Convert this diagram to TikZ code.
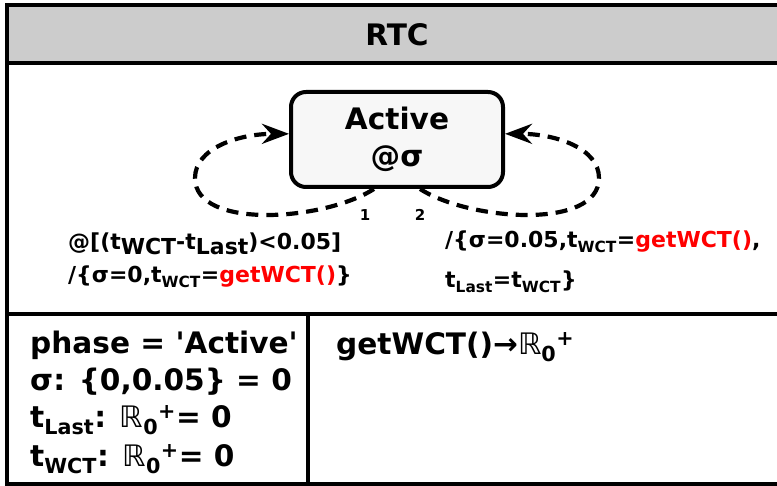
\documentclass[tikz,border=0pt]{standalone}
\usepackage{fontspec}
\setmainfont{DejaVu Sans}
\newfontfamily\symfont{DejaVu Sans}
\usepackage{tikz}
\usetikzlibrary{arrows.meta, positioning}
\usepackage{xcolor}
\definecolor{titlegray}{RGB}{204, 204, 204}
\definecolor{stategray}{RGB}{247, 247, 247}
\definecolor{callred}{RGB}{255, 0, 0}
\newcommand{\Rpos}{{\symfont\mdseries ℝ}\textsubscript{0}\textsuperscript{+}}
\newcommand{\lowered}[1]{\raisebox{-0.22em}{#1}}

\begin{document}
\begin{tikzpicture}[x=1pt, y=-1pt,
  frame/.style={line width=3.4pt, black},
  bigtext/.style={font=\fontsize{29.6}{35}\selectfont\bfseries, inner sep=0pt},
  guardtext/.style={font=\fontsize{22}{26}\selectfont\bfseries, inner sep=0pt, anchor=base west},
  state/.style={draw, line width=4pt, rounded corners=15pt, fill=stategray,
    minimum width=212pt, minimum height=95pt, align=center,
    font=\fontsize{29.6}{37}\selectfont\bfseries},
  transarrow/.style={line width=4.2pt, dash pattern=on 12pt off 8pt,
    -{Stealth[length=27pt, width=20pt, inset=9pt]}},
  prio/.style={font=\fontsize{15}{17}\selectfont\bfseries, inner sep=0pt}]
  \useasboundingbox (0,0) rectangle (777,486);
  \clip (0,0) rectangle (777,486);
  \fill[titlegray] (7,5) rectangle (795,63);
  \draw[frame] (7,5) rectangle (795,484);
  \draw[frame] (7,63) -- (795,63);
  \draw[frame] (7,314) -- (795,314);
  \draw[frame] (308,314) -- (308,484);
  \node[bigtext, anchor=base] (title) at (397,46) {RTC};

  \node[state] (active) at (397,139.5) {Active\\@σ};
  \coordinate (lfar) at (195,178);
  \coordinate (rfar) at (599,178);
  \draw[transarrow] (active.245) .. controls +(-50,32) and +(0,52) .. (lfar)
    .. controls +(0,-30) and +(-50,0) .. (active.177);
  \draw[transarrow] (active.295) .. controls +(50,32) and +(0,52) .. (rfar)
    .. controls +(0,-30) and +(50,0) .. (active.3);
  \node[prio] (p1) at (365,215) {1};
  \node[prio] (p2) at (420,215) {2};

  \node[guardtext] (guardA) at (68,250) {@[(t\lowered{WCT}-t\lowered{Last})<0.05]};
  \node[guardtext] (actionA) at (68,283) {/\{σ=0,t\textsubscript{WCT}=\textcolor{callred}{getWCT()}\}};
  \node[guardtext] (actionB) at (445,248) {/\{σ=0.05,t\textsubscript{WCT}=\textcolor{callred}{getWCT()},};
  \node[guardtext] (actionB2) at (445,288) {t\textsubscript{Last}=t\textsubscript{WCT}\}};

  \node[bigtext, anchor=base west] (phase) at (30,354) {phase = \textquotesingle Active\textquotesingle};
  \node[bigtext, anchor=base west] (sigma) at (30,391) {σ: \{0,0.05\} = 0};
  \node[bigtext, anchor=base west] (tlast) at (30,428) {t\textsubscript{Last}: \Rpos= 0};
  \node[bigtext, anchor=base west] (twct) at (30,467) {t\textsubscript{WCT}: \Rpos= 0};
  \node[bigtext, anchor=base west] (funcs) at (336,355) {getWCT()→\Rpos};
\end{tikzpicture}
\end{document}
